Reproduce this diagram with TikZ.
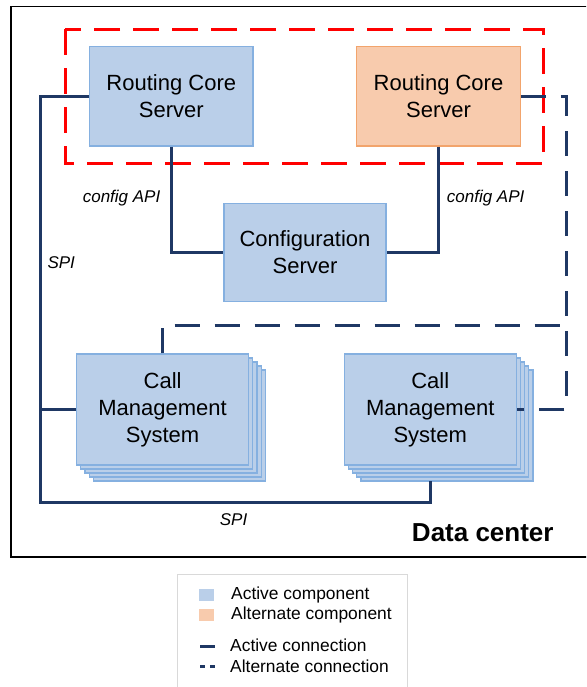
\documentclass[tikz,border=0pt]{standalone}
\usepackage{fontspec}
\setmainfont{Liberation Sans}
\definecolor{fillblue}{HTML}{BACFE9}
\definecolor{boxblue}{HTML}{85B0E0}
\definecolor{fillorange}{HTML}{F8CBAD}
\definecolor{boxorange}{HTML}{F2A46C}
\definecolor{navy}{HTML}{1F3864}
\definecolor{legendgray}{HTML}{D9D9D9}
\begin{document}
\begin{tikzpicture}[x=1pt,y=-1pt,
  comp/.style={draw=boxblue, fill=fillblue, line width=1.2pt, align=center, inner sep=0pt,
    font=\fontsize{22}{27}\selectfont},
  altcomp/.style={comp, draw=boxorange, fill=fillorange},
  conn/.style={draw=navy, line width=3pt},
  altconn/.style={conn, dash pattern=on 25pt off 15pt},
  lbl/.style={font=\fontsize{17}{20}\selectfont\itshape, inner sep=0pt},
  legtext/.style={font=\fontsize{17.4}{20}\selectfont, inner sep=0pt, anchor=west}]
\useasboundingbox (0,0) rectangle (586,687);
\clip (0,0) rectangle (586,687);
\fill[white] (0,0) rectangle (586,687);
% data center frame
\draw[line width=1.6pt] (590,6.7) -- (11,6.7) -- (11,557) -- (590,557);
% red dashed group
\draw[red, line width=3.5pt, dash pattern=on 26pt off 13pt] (65.4,29.3) rectangle (543.7,163.3);
% nodes
\node[comp, minimum width=163.3pt, minimum height=99.3pt] (rcs1) at (171.3,96.3) {Routing Core\\Server};
\node[altcomp, minimum width=163.3pt, minimum height=99.3pt] (rcs2) at (438.5,96.3) {Routing Core\\Server};
\node[comp, minimum width=162pt, minimum height=98.4pt] (cfg) at (305,252.5) {Configuration\\Server};
\foreach \k in {4,3,2,1} {
  \draw[comp] (76.6+4.2*\k, 354+4*\k) rectangle ++(172,111);
  \draw[comp] (344.2+4.2*\k, 354+4*\k) rectangle ++(172,111);
}
\node[comp, minimum width=172pt, minimum height=111pt] (cms1) at (162.6,409.5) {Call\\Management\\System};
\node[comp, minimum width=172pt, minimum height=111pt] (cms2) at (430.2,409.5) {Call\\Management\\System};
% helper coordinates
\coordinate (spiB) at (40,502);
\coordinate (cms2b) at (430.5,481);
\coordinate (altTop) at (566,96.3);
\coordinate (altBot) at (566,409.5);
\coordinate (altMid) at (566,325.5);
% active connections
\draw[conn] (rcs1.west) -| (spiB) -| (cms2b);
\draw[conn] (cms1.west) -- (cms1.west -| spiB);
\draw[conn] (rcs1.south) |- (cfg.west);
\draw[conn] (rcs2.south) |- (cfg.east);
% alternate connections
\draw[altconn] (rcs2.east) -- (altTop) -- (altBot) -- (cms2.east);
\draw[altconn] (cms1.north) |- (altMid);
% labels
\node[lbl, anchor=east] (capi1) at (160.5,198.3) {config API};
\node[lbl, anchor=west] (capi2) at (446.7,198.3) {config API};
\node[lbl, anchor=west] (spi1) at (47.3,263) {SPI};
\node[lbl] (spi2) at (233.6,520) {SPI};
\node[font=\fontsize{26}{30}\selectfont\bfseries, inner sep=0pt] (dc) at (482.8,533) {Data center};
% legend
\draw[legendgray, line width=1pt] (177.3,690) -- (177.3,574) -- (407,574) -- (407,690);
\node[fill=fillblue, minimum width=14.7pt, minimum height=12pt, inner sep=0pt] (legA) at (206.6,595) {};
\node[fill=fillorange, minimum width=14.7pt, minimum height=12pt, inner sep=0pt] (legB) at (206.6,615) {};
\coordinate (la1) at (200,646);
\coordinate (la2) at (215,646);
\coordinate (lb1) at (200,666.7);
\coordinate (lb2) at (215,666.7);
\draw[conn] (la1) -- (la2);
\draw[conn, dash pattern=on 5pt off 5pt] (lb1) -- (lb2);
\node[legtext] (t1) at (231,595) {Active component};
\node[legtext] (t2) at (231,615) {Alternate component};
\node[legtext] (t3) at (230,645) {Active connection};
\node[legtext] (t4) at (230,666) {Alternate connection};
\end{tikzpicture}
\end{document}
